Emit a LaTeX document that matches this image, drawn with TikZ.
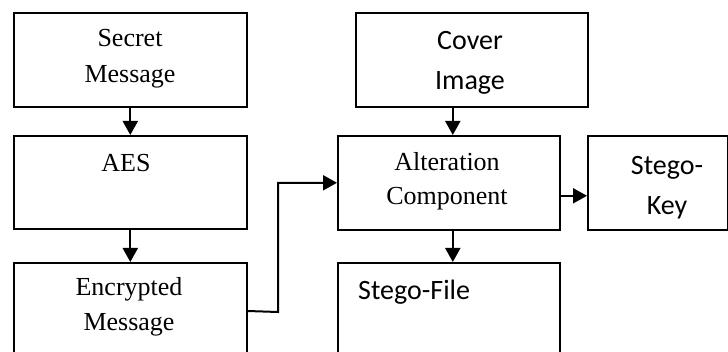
\documentclass[tikz,border=0pt]{standalone}
\usepackage{fontspec}
\setmainfont{Liberation Serif}
\newfontfamily\calfont{Carlito}
\usetikzlibrary{arrows.meta}
\begin{document}
\begin{tikzpicture}[x=1pt,y=-1pt,
  box/.style={draw=black,line width=1.6pt,anchor=north west,inner sep=0pt,minimum width=#1},
  arr/.style={line width=2pt,-{Triangle[width=15pt,length=14pt]}},
  ser/.style={inner sep=0pt,anchor=base,font=\fontsize{26}{36}\selectfont},
  cal/.style={inner sep=0pt,anchor=base,font=\calfont\fontsize{28}{40}\selectfont}]
\clip (0,0) rectangle (728,352);
% boxes
\node[box=233pt,minimum height=94pt] (secret) at (13,12) {};
\node[box=233pt,minimum height=93pt] (aes) at (13,135) {};
\node[box=233pt,minimum height=108pt] (enc) at (13,262) {};
\node[box=232pt,minimum height=94pt] (cover) at (355,12) {};
\node[box=222pt,minimum height=94pt] (alter) at (337,135) {};
\node[box=140pt,minimum height=94pt] (key) at (587,135) {};
\node[box=222pt,minimum height=108pt] (file) at (337,262) {};
% texts
\node[ser] (t1) at (130,46.7) {Secret};
\node[ser] (t2) at (130,82.7) {Message};
\node[ser] (t3) at (126,171.7) {AES};
\node[ser] (t4) at (129,296) {Encrypted};
\node[ser] (t5) at (129,331) {Message};
\node[cal] (t6) at (470,50) {Cover};
\node[cal] (t7) at (470,90) {Image};
\node[ser] (t8) at (447,170.7) {Alteration};
\node[ser] (t9) at (447,205) {Component};
\node[cal] (t10) at (667,175) {Stego-};
\node[cal] (t11) at (667,215) {Key};
\node[cal,anchor=base west] (t12) at (358,300) {Stego-File};
% connectors
\coordinate (ak) at ([yshift=-13pt]alter.east);
\draw[arr] (ak) -- (key.west |- ak);
\draw[arr] (secret.south) -- (aes.north);
\draw[arr] (aes.south) -- (enc.north);
\draw[arr] ([xshift=4pt]alter.north |- cover.south) -- ([xshift=4pt]alter.north);
\draw[arr] ([xshift=4pt]alter.south) -- ([xshift=4pt]file.north);
\coordinate (bend) at (278,312);
\draw[arr] ([yshift=-49pt]enc.north east) -- (bend) |- (alter.west);
\end{tikzpicture}
\end{document}
